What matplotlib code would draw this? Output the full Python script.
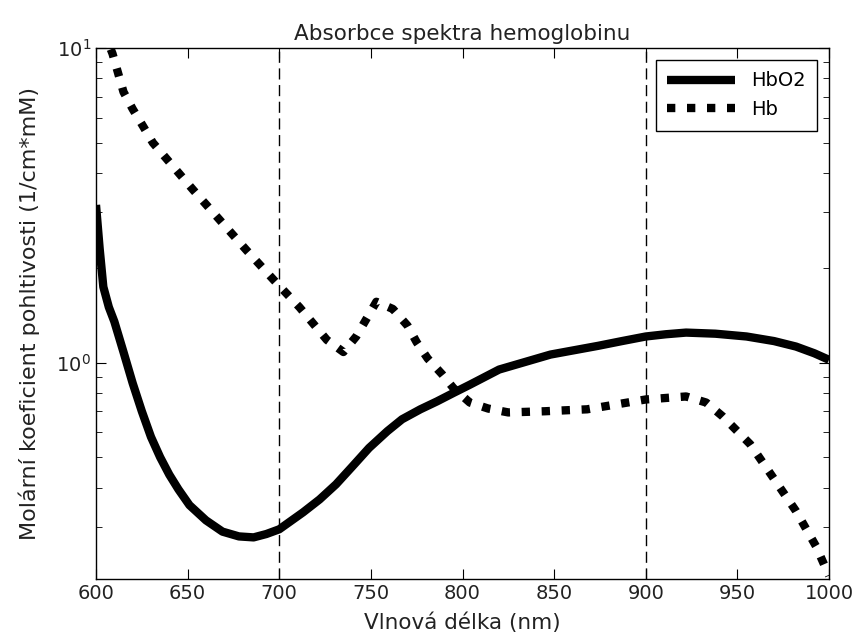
import matplotlib
matplotlib.use('Agg')
import matplotlib.pyplot as plt
from matplotlib.ticker import LogLocator, NullFormatter

# data
wl_hbo2 = [600, 602, 604, 607, 610, 615, 620, 625, 630, 635, 640, 645, 651, 660, 669,
           678, 686, 693, 700, 713, 722, 731, 740, 749, 759, 767, 777, 786, 795, 804,
           820, 848, 874, 887, 900, 911, 922, 938, 955, 970, 982, 992, 1000]
hbo2 = [3.17, 2.3, 1.74, 1.5, 1.35, 1.08, 0.86, 0.70, 0.58, 0.50, 0.44, 0.395, 0.352,
        0.315, 0.29, 0.28, 0.278, 0.285, 0.295, 0.334, 0.367, 0.41, 0.468, 0.535, 0.605,
        0.66, 0.71, 0.752, 0.80, 0.85, 0.95, 1.06, 1.13, 1.17, 1.21, 1.23, 1.245,
        1.235, 1.21, 1.17, 1.124, 1.07, 1.02]

wl_hb = [600, 609, 615, 620, 626, 631, 653, 682, 697, 711, 726, 735, 742, 753, 762,
         770, 775, 781, 789, 795, 804, 814, 825, 845, 868, 890, 900, 922, 933, 942,
         957, 969, 982, 993, 1000]
hb = [13.0, 9.6, 7.25, 6.4, 5.6, 5.0, 3.54, 2.28, 1.83, 1.5, 1.18, 1.08, 1.21, 1.56,
      1.48, 1.31, 1.16, 1.03, 0.916, 0.83, 0.746, 0.714, 0.694, 0.70, 0.71, 0.746,
      0.763, 0.78, 0.746, 0.674, 0.55, 0.435, 0.337, 0.26, 0.21]

marks = [700, 900]

fig = plt.figure(figsize=(8.53, 6.4), dpi=100)
ax = fig.add_axes([96 / 853, 1 - 579 / 640, (829 - 96) / 853, (579 - 48) / 640])

ax.plot(wl_hbo2, hbo2, color='black', lw=6, label='HbO2', solid_capstyle='butt',
        solid_joinstyle='round')
ax.plot(wl_hb, hb, color='black', lw=6, linestyle=(0, (1, 1.4)), label='Hb')
for m in marks:
    ax.axvline(m, color='black', lw=1, linestyle=(0, (8, 4)))

ax.set_yscale('log')
ax.set_xlim(600, 1000)
ax.set_ylim(0.205, 10)
ax.set_xticks(range(600, 1001, 50))
ax.yaxis.set_minor_locator(LogLocator(base=10, subs=range(2, 10)))
ax.yaxis.set_minor_formatter(NullFormatter())
ax.tick_params(which='both', direction='in', top=True, right=True, labelsize=14,
               labelcolor='#222222')
ax.tick_params(which='major', length=7)
ax.tick_params(which='minor', length=4)
for s in ax.spines.values():
    s.set_linewidth(1)

ax.set_title('Absorbce spektra hemoglobinu', fontsize=15.5, color='#222222', pad=6)
ax.set_xlabel('Vlnová délka (nm)', fontsize=15.5, color='#222222', labelpad=7)
ax.set_ylabel('Molární koeficient pohltivosti (1/cm*mM)', fontsize=16,
              color='#222222', labelpad=12)

leg = ax.legend(loc='upper right', fontsize=14, handlelength=3.5, fancybox=False,
                framealpha=1, edgecolor='black', borderaxespad=0.6, borderpad=0.6)
leg.get_frame().set_linewidth(1)

plt.savefig('out.png', dpi=100)
